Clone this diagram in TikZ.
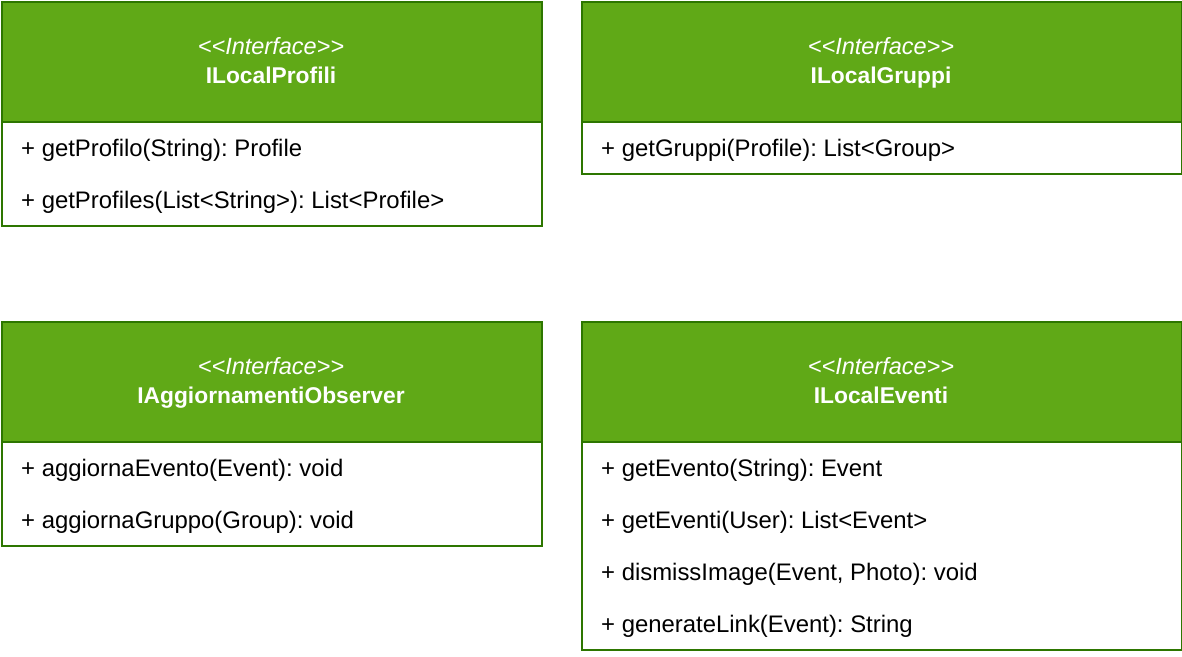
\documentclass[tikz,border=0pt]{standalone}
\usepackage{fontspec}
\setmainfont{Liberation Sans}
\definecolor{umlgreen}{HTML}{60A917}
\definecolor{umlborder}{HTML}{2D7600}
\begin{document}
\frenchspacing
\begin{tikzpicture}[x=1pt,y=-1pt,
  hdr/.style={draw=umlborder, fill=umlgreen, line width=2pt, anchor=north west, inner sep=0pt,
    minimum height=120pt},
  bodybox/.style={draw=umlborder, fill=white, line width=2pt, anchor=north west, inner sep=0pt},
  stereo/.style={anchor=base, inner sep=0pt, text=white, font=\fontsize{23.5}{28}\selectfont\itshape},
  cname/.style={anchor=base, inner sep=0pt, text=white, font=\fontsize{22.8}{28}\selectfont\bfseries},
  member/.style={anchor=base west, inner sep=0pt, font=\fontsize{23.9}{28}\selectfont}]
\useasboundingbox (0,0) rectangle (1182,656);
% ILocalProfili
\node[bodybox, minimum width=540pt, minimum height=104pt] (b1) at (1,121) {};
\node[hdr, minimum width=540pt] (h1) at (1,1) {};
\node[stereo] (s1) at (271,54) {{<}{<}Interface{>}{>}};
\node[cname] (n1) at (271,83) {ILocalProfili};
\node[member] (m11) at (21,156) {+ getProfilo(String): Profile};
\node[member] (m12) at (21,208) {+ getProfiles(List{<}String{>}): List{<}Profile{>}};
% ILocalGruppi
\node[bodybox, minimum width=600pt, minimum height=52pt] (b2) at (581,121) {};
\node[hdr, minimum width=600pt] (h2) at (581,1) {};
\node[stereo] (s2) at (881,54) {{<}{<}Interface{>}{>}};
\node[cname] (n2) at (881,83) {ILocalGruppi};
\node[member] (m21) at (601,156) {+ getGruppi(Profile): List{<}Group{>}};
% IAggiornamentiObserver
\node[bodybox, minimum width=540pt, minimum height=104pt] (b3) at (1,441) {};
\node[hdr, minimum width=540pt] (h3) at (1,321) {};
\node[stereo] (s3) at (271,374) {{<}{<}Interface{>}{>}};
\node[cname] (n3) at (271,403) {IAggiornamentiObserver};
\node[member] (m31) at (21,476) {+ aggiornaEvento(Event): void};
\node[member] (m32) at (21,528) {+ aggiornaGruppo(Group): void};
% ILocalEventi
\node[bodybox, minimum width=600pt, minimum height=208pt] (b4) at (581,441) {};
\node[hdr, minimum width=600pt] (h4) at (581,321) {};
\node[stereo] (s4) at (881,374) {{<}{<}Interface{>}{>}};
\node[cname] (n4) at (881,403) {ILocalEventi};
\node[member] (m41) at (601,476) {+ getEvento(String): Event};
\node[member] (m42) at (601,528) {+ getEventi(User): List{<}Event{>}};
\node[member] (m43) at (601,580) {+ dismissImage(Event, Photo): void};
\node[member] (m44) at (601,632) {+ generateLink(Event): String};
\end{tikzpicture}
\end{document}
